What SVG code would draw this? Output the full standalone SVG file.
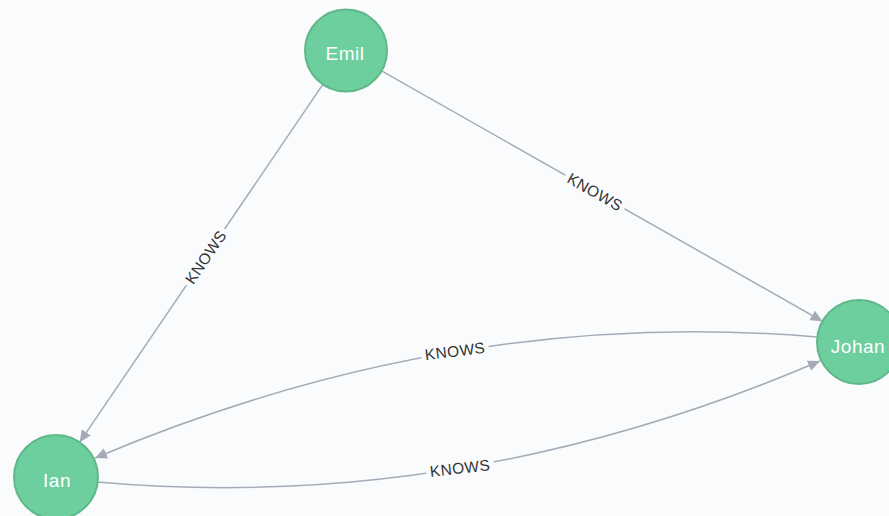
<svg xmlns="http://www.w3.org/2000/svg" width="889" height="516" viewBox="0 0 889 516">
  <style>
    .rel { fill: none; stroke: #a5abb6; stroke-width: 1.5; marker-end: url(#arrow); }
    .rel-label { font-family: "Liberation Sans", Arial, sans-serif; font-size: 15.5px; letter-spacing: 0.4px; fill: #333333; text-anchor: middle; stroke: #f9fbfd; stroke-width: 10; stroke-linejoin: round; paint-order: stroke; }
    .node circle { fill: #6dce9e; stroke: #60b88a; stroke-width: 2; }
    .node text { font-family: "Liberation Sans", Arial, sans-serif; font-size: 19px; letter-spacing: 0.5px; fill: #ffffff; text-anchor: middle; }
  </style>
  <defs>
    <marker id="arrow" markerUnits="userSpaceOnUse" markerWidth="13" markerHeight="11" refX="12" refY="5.5" orient="auto">
      <path d="M0,0 L12,5.5 L0,11 Z" fill="#a5abb6"/>
    </marker>
  </defs>

  <rect width="889" height="516" fill="#f9fbfd"/>

  <!-- relationships -->
  <g id="relationships">
    <g id="rel-emil-ian">
      <path class="rel" d="M322.9,84.4 L79.6,442.3"/>
      <text class="rel-label" transform="translate(205.6,257) rotate(-55.8)" y="5.5">KNOWS</text>
    </g>
    <g id="rel-emil-johan">
      <path class="rel" d="M381.6,70.8 L822.5,321.3"/>
      <text class="rel-label" transform="translate(595,192) rotate(29.6)" y="5.5">KNOWS</text>
    </g>
    <g id="rel-johan-ian">
      <path class="rel" d="M817,337 Q454,306 95,458"/>
      <text class="rel-label" transform="translate(455,351) rotate(-7)" y="5.5">KNOWS</text>
    </g>
    <g id="rel-ian-johan">
      <path class="rel" d="M97,482 Q461.5,514.5 820,361"/>
      <text class="rel-label" transform="translate(460,468) rotate(-6.5)" y="5.5">KNOWS</text>
    </g>
  </g>

  <!-- nodes -->
  <g id="node-emil" class="node">
    <circle cx="346" cy="50.5" r="41"/>
    <text x="345" y="60">Emil</text>
  </g>
  <g id="node-johan" class="node">
    <circle cx="859" cy="342" r="42"/>
    <text x="858" y="353">Johan</text>
  </g>
  <g id="node-ian" class="node">
    <circle cx="56" cy="477" r="42"/>
    <text x="57" y="487">Ian</text>
  </g>
</svg>
